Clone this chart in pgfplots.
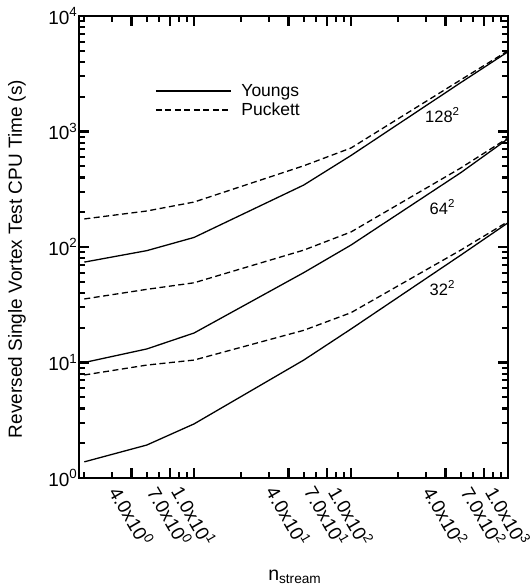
\documentclass[border=0pt]{standalone}
\usepackage{fontspec}
\setmainfont{Liberation Sans}
\usepackage{pgfplots}
\pgfplotsset{compat=1.18}
\begin{document}
\begin{tikzpicture}
\begin{axis}[
  name=ax,
  scale only axis,
  width=429bp, height=462bp,
  xmode=log, ymode=log,
  xmin=1.85, xmax=1000, ymin=1, ymax=10000,
  every tick/.style={black, line width=2.2bp},
  major tick length=10bp,
  minor tick length=6bp,
  xtick={4,7,10,40,70,100,400,700,1000},
  xticklabels={4.0x10\textsuperscript{0},7.0x10\textsuperscript{0},1.0x10\textsuperscript{1},4.0x10\textsuperscript{1},7.0x10\textsuperscript{1},1.0x10\textsuperscript{2},4.0x10\textsuperscript{2},7.0x10\textsuperscript{2},1.0x10\textsuperscript{3}},
  minor xtick={2,3,5,6,8,9,20,30,50,60,80,90,200,300,500,600,800,900},
  ytick={1,10,100,1000,10000},
  yticklabels={10\textsuperscript{0},10\textsuperscript{1},10\textsuperscript{2},10\textsuperscript{3},10\textsuperscript{4}},
  minor ytick={2,3,4,5,6,7,8,9,20,30,40,50,60,70,80,90,200,300,400,500,600,700,800,900,2000,3000,4000,5000,6000,7000,8000,9000},
  xticklabel style={anchor=center, yshift=-38bp, rotate=-60, font=\fontsize{19bp}{22bp}\selectfont},
  yticklabel style={font=\fontsize{19bp}{22bp}\selectfont, inner xsep=1.5bp},
  xlabel={n\textsubscript{stream}},
  xlabel style={at={(rel axis cs:0.503,-0.214)}, anchor=center, font=\fontsize{19.5bp}{22bp}\selectfont},
  ylabel={Reversed Single Vortex Test CPU Time (s)},
  ylabel style={at={(rel axis cs:-0.1445,0.474)}, anchor=center, font=\fontsize{19bp}{22bp}\selectfont},
  legend cell align=left,
  legend style={draw=none, fill=none, at={(0.177,0.857)}, anchor=north west, font=\fontsize{17.5bp}{20bp}\selectfont, row sep=1bp, inner sep=0pt},
  legend image code/.code={\draw[#1] (0bp,0bp) -- (75bp,0bp); \path (83bp,0bp);},
]
\addplot[black, line width=1.3bp, mark=none] coordinates {(2,74) (5,93) (10,121) (50,344) (100,620) (500,2650) (1000,4900)};
\addlegendentry{Youngs}
\addplot[black, line width=1.3bp, mark=none, dash pattern=on 6bp off 3.5bp] coordinates {(2,175) (5,205) (10,245) (50,505) (100,720) (500,2800) (1000,5000)};
\addlegendentry{Puckett}
\addplot[black, line width=1.3bp, mark=none] coordinates {(2,10) (5,13.1) (10,18) (50,60) (100,104) (500,440) (1000,865)};
\addplot[black, line width=1.3bp, mark=none, dash pattern=on 6bp off 3.5bp] coordinates {(2,35.5) (5,43) (10,49) (50,94) (100,135) (500,483) (1000,880)};
\addplot[black, line width=1.3bp, mark=none] coordinates {(2,1.38) (5,1.93) (10,2.94) (50,10.5) (100,19.5) (500,85) (1000,162)};
\addplot[black, line width=1.3bp, mark=none, dash pattern=on 6bp off 3.5bp] coordinates {(2,7.8) (5,9.5) (10,10.5) (50,19) (100,27) (500,94) (1000,166)};
\node[font=\fontsize{16.5bp}{19bp}\selectfont] at (axis cs:382,1390) {128\textsuperscript{2}};
\node[font=\fontsize{16.5bp}{19bp}\selectfont] at (axis cs:382,222) {64\textsuperscript{2}};
\node[font=\fontsize{16.5bp}{19bp}\selectfont] at (axis cs:382,44.2) {32\textsuperscript{2}};
\end{axis}
\draw[line width=2.8bp] (ax.south west) rectangle (ax.north east);
\pgfresetboundingbox
\path[use as bounding box] ([shift={(-79bp,-108bp)}]ax.south west) rectangle ([shift={(23bp,16bp)}]ax.north east);
\end{tikzpicture}
\end{document}
